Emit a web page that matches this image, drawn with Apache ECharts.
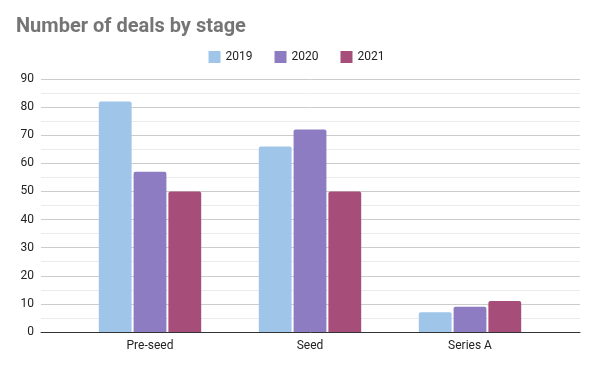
<!DOCTYPE html>
<html><head><meta charset="utf-8">
<script src="https://cdn.jsdelivr.net/npm/echarts@6/dist/echarts.min.js"></script>
<style>html,body{margin:0;padding:0;background:#fff}#c{width:593px;height:365px}</style>
</head><body><div id="c"></div>
<script>
const categories = ['Pre-seed', 'Seed', 'Series A'];
const seriesNames = ['2019', '2020', '2021'];
const values2019 = [82, 66, 7];
const values2020 = [57, 72, 9];
const values2021 = [50, 50, 11];
const yTicks = [0, 10, 20, 30, 40, 50, 60, 70, 80, 90];
const colors = ['#9fc5e8', '#8e7cc3', '#a64d79'];
const allValues = [values2019, values2020, values2021];

const yMin = yTicks[0], yMax = yTicks[yTicks.length - 1];
const chart = echarts.init(document.getElementById('c'));
chart.setOption({
  animation: false,
  title: {
    text: 'Number of deals by stage', left: 11, top: 12,
    textStyle: {fontFamily: 'Roboto', fontWeight: 'bold', fontSize: 20, color: '#757575'}
  },
  legend: {
    data: seriesNames, top: 46, left: 'center', itemWidth: 12, itemHeight: 12, itemGap: 22,
    icon: 'rect',
    textStyle: {fontFamily: 'Roboto', fontSize: 12, color: '#222'}
  },
  grid: [
    {left: 41, right: 13, top: 79, bottom: 33, containLabel: false},
    {left: 70, right: 43, top: 79, bottom: 33, containLabel: false}
  ],
  xAxis: [
    {
      type: 'category', gridIndex: 0, data: [''],
      axisLine: {lineStyle: {color: '#333', width: 1}},
      axisTick: {show: false}, axisLabel: {show: false}
    },
    {
      type: 'category', gridIndex: 1, data: categories,
      axisLine: {show: false},
      axisTick: {show: false},
      axisLabel: {fontFamily: 'Roboto', fontSize: 12, color: '#222', margin: 8}
    }
  ],
  yAxis: [
    {
      type: 'value', gridIndex: 0, min: yMin, max: yMax, interval: 10,
      axisLine: {show: false}, axisTick: {show: false},
      axisLabel: {fontFamily: 'Roboto', fontSize: 12, color: '#222', margin: 7},
      splitLine: {lineStyle: {color: '#cccccc'}},
      minorTick: {show: false, splitNumber: 2},
      minorSplitLine: {show: true, lineStyle: {color: '#ebebeb'}}
    },
    {
      type: 'value', gridIndex: 1, min: yMin, max: yMax, interval: 10,
      axisLine: {show: false}, axisTick: {show: false}, axisLabel: {show: false},
      splitLine: {show: false}
    }
  ],
  series: seriesNames.map((n, i) => ({
    name: n, type: 'bar', data: allValues[i], xAxisIndex: 1, yAxisIndex: 1, z: 3,
    itemStyle: {color: colors[i], borderRadius: [2, 2, 0, 0]},
    barGap: '6%', barCategoryGap: '36%'
  }))
});
</script></body></html>
